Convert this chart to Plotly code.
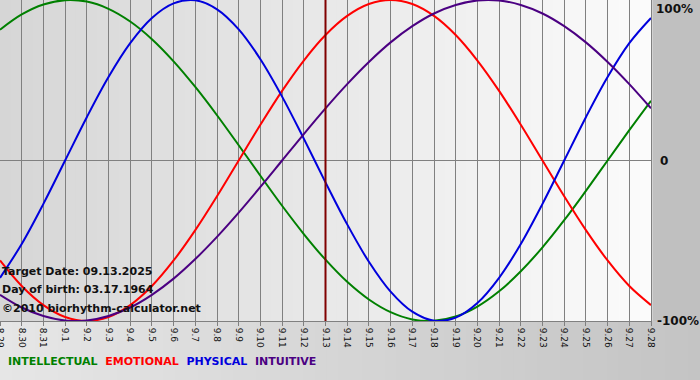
import plotly.graph_objects as go

days = ["8.29", "8.30", "8.31", "9.1", "9.2", "9.3", "9.4", "9.5", "9.6", "9.7", "9.8",
        "9.9", "9.10", "9.11", "9.12", "9.13", "9.14", "9.15", "9.16", "9.17", "9.18",
        "9.19", "9.20", "9.21", "9.22", "9.23", "9.24", "9.25", "9.26", "9.27", "9.28"]

intellectual = [81.5, 91.0, 97.2, 99.9, 99.0, 94.5, 86.6, 75.6, 61.8, 45.8, 28.2, 9.5,
                -9.5, -28.2, -45.8, -61.8, -75.6, -86.6, -94.5, -99.0, -99.9, -97.2,
                -91.0, -81.5, -69.0, -54.1, -37.2, -18.9, 0.0, 18.9, 37.2]
emotional = [-62.3, -78.2, -90.1, -97.5, -100.0, -97.5, -90.1, -78.2, -62.3, -43.4, -22.3,
             0.0, 22.3, 43.4, 62.3, 78.2, 90.1, 97.5, 100.0, 97.5, 90.1, 78.2, 62.3, 43.4,
             22.3, 0.0, -22.3, -43.4, -62.3, -78.2, -90.1]
physical = [-73.1, -52.0, -27.0, 0.0, 27.0, 52.0, 73.1, 88.8, 97.9, 99.8, 94.2, 81.7, 63.1,
            39.8, 13.6, -13.6, -39.8, -63.1, -81.7, -94.2, -99.8, -97.9, -88.8, -73.1,
            -52.0, -27.0, 0.0, 27.0, 52.0, 73.1, 88.8]
intuitive = [-83.7, -91.6, -96.9, -99.7, -99.7, -96.9, -91.6, -83.7, -73.6, -61.4, -47.6,
             -32.5, -16.5, 0.0, 16.5, 32.5, 47.6, 61.4, 73.6, 83.7, 91.6, 96.9, 99.7, 99.7,
             96.9, 91.6, 83.7, 73.6, 61.4, 47.6, 32.5]

target_day = "9.13"
series = [("INTELLECTUAL", intellectual, "#008000"),
          ("EMOTIONAL", emotional, "#ff0000"),
          ("PHYSICAL", physical, "#0000dd"),
          ("INTUITIVE", intuitive, "#4b0082")]

x = list(range(len(days)))
FONT = "DejaVu Sans"

fig = go.Figure()
for name, vals, col in series:
    fig.add_trace(go.Scatter(x=x, y=vals, mode="lines", name=name,
                             line=dict(color=col, width=2, shape="spline", smoothing=1.0),
                             hoverinfo="skip"))

shapes = []
# plot-area gradient (light gray -> white)
n = 60
c0, c1 = (214, 214, 214), (251, 251, 251)
for i in range(n):
    t = i / (n - 1)
    c = tuple(int(round(c0[k] + (c1[k] - c0[k]) * t)) for k in range(3))
    shapes.append(dict(type="rect", xref="x domain", yref="y domain",
                       x0=i / n, x1=(i + 1) / n + 0.002, y0=0, y1=1,
                       fillcolor="rgb(%d,%d,%d)" % c, line=dict(width=0), layer="below"))
# bottom strip gradient
b0, b1 = (230, 230, 230), (196, 196, 196)
for i in range(n):
    t = i / (n - 1)
    c = tuple(int(round(b0[k] + (b1[k] - b0[k]) * t)) for k in range(3))
    shapes.append(dict(type="rect", xref="paper", yref="paper",
                       x0=i / n * (700 / 651), x1=(i + 1) / n * (700 / 651) + 0.003,
                       y0=-59 / 321, y1=0,
                       fillcolor="rgb(%d,%d,%d)" % c, line=dict(width=0), layer="below"))
# zero line
shapes.append(dict(type="line", xref="x domain", yref="y", x0=0, x1=1, y0=0, y1=0,
                   line=dict(color="#808080", width=1), layer="below"))
# target date line
ti = days.index(target_day)
shapes.append(dict(type="line", xref="x", yref="y domain", x0=ti, x1=ti, y0=0, y1=1,
                   line=dict(color="#800000", width=2), layer="above"))

annotations = []
for val, txt, anchor, xs in [(100, "100%", "top", 3), (0, "0", "middle", 7),
                             (-100, "-100%", "middle", 4)]:
    annotations.append(dict(xref="paper", yref="y", x=1.0, y=val, xanchor="left",
                            yanchor=anchor, xshift=xs,
                            yshift=0,
                            text="<b>%s</b>" % txt, showarrow=False,
                            font=dict(family=FONT, size=12, color="#111111")))

info = ["Target Date: 09.13.2025", "Day of birth: 03.17.1964", "©2010 biorhythm-calculator.net"]
for i, t in enumerate(info):
    annotations.append(dict(xref="paper", yref="paper", x=0, y=(321 - 271 - i * 18.5) / 321,
                            xanchor="left", yanchor="middle", xshift=0,
                            text="<b>%s</b>" % t, showarrow=False,
                            font=dict(family=FONT, size=11, color="#111111")))

legend_txt = "&nbsp;&nbsp;".join('<span style="color:%s">%s</span>' % (c, nm)
                                 for nm, _, c in series)
annotations.append(dict(xref="paper", yref="paper", x=0, y=-(361 - 321) / 321,
                        xanchor="left", yanchor="middle", xshift=6,
                        text="<b>%s</b>" % legend_txt, showarrow=False,
                        font=dict(family=FONT, size=11)))

fig.update_layout(
    width=700, height=380,
    margin=dict(l=0, r=49, t=0, b=59, autoexpand=False),
    paper_bgcolor="#c0c0c0",
    plot_bgcolor="rgba(0,0,0,0)",
    showlegend=False,
    shapes=shapes,
    annotations=annotations,
    xaxis=dict(range=[0, len(days) - 1], tickmode="array", tickvals=x, ticktext=days,
               tickangle=90, showgrid=True, gridcolor="#808080", gridwidth=1,
               zeroline=False, showline=True, linecolor="#808080", mirror=True,
               ticks="outside", ticklen=4, tickcolor="#808080", automargin=False,
               ticklabeloverflow="allow",
               tickfont=dict(family=FONT, size=9, color="#111111"), fixedrange=True),
    yaxis=dict(range=[-100, 100], showgrid=False, zeroline=False, showticklabels=False,
               showline=True, linecolor="#808080", mirror=True, fixedrange=True,
               automargin=False),
)

fig.write_html("out.html", config={"displayModeBar": False, "staticPlot": True},
               post_script="document.body.style.margin='0';document.body.style.overflow='hidden';")
